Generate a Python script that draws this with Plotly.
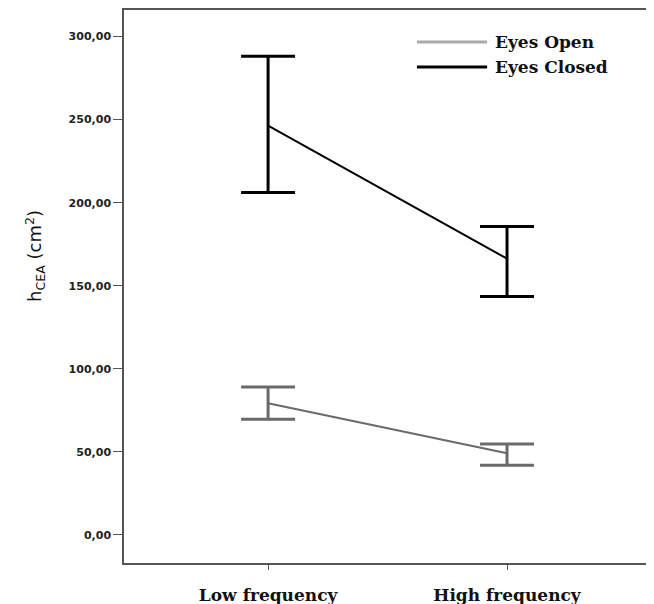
import plotly.graph_objects as go

categories = ["Low frequency", "High frequency"]
x_pos = [0, 1]

open_mean = [79.3, 49.2]
open_upper = [89.0, 54.8]
open_lower = [69.7, 42.0]

closed_mean = [246.4, 166.3]
closed_upper = [288.1, 185.7]
closed_lower = [206.2, 143.6]

y_ticks = [0, 50, 100, 150, 200, 250, 300]
y_ticktext = ["0,00", "50,00", "100,00", "150,00", "200,00", "250,00", "300,00"]

series = [
    ("Eyes Open", open_mean, open_upper, open_lower, "#6a6a6a", "#aaaaaa"),
    ("Eyes Closed", closed_mean, closed_upper, closed_lower, "#000000", "#000000"),
]

fig = go.Figure()
for name, m, up, lo, col, _ in series:
    fig.add_trace(go.Scatter(
        x=x_pos, y=m, mode="lines", name=name,
        line=dict(color=col, width=2),
        error_y=dict(type="data", symmetric=False,
                     array=[u - v for u, v in zip(up, m)],
                     arrayminus=[v - l for v, l in zip(m, lo)],
                     color=col, thickness=3, width=27),
        showlegend=False,
    ))

serif = "DejaVu Serif"
legend_y = [0.942, 0.897]
for (name, *_rest, lcol), ly in zip(series, legend_y):
    fig.add_shape(type="line", xref="paper", yref="paper",
                  x0=0.559, x1=0.693, y0=ly, y1=ly,
                  line=dict(color=lcol, width=3))
    fig.add_annotation(xref="paper", yref="paper", x=0.704, y=ly,
                       xanchor="left", yanchor="middle", showarrow=False,
                       text="<b>%s</b>" % name,
                       font=dict(family=serif, size=17, color="#111"))

fig.add_annotation(xref="paper", yref="paper", x=-0.17, y=0.555,
                   text="h<sub>CEA</sub> (cm<sup>2</sup>)", textangle=-90,
                   showarrow=False, xanchor="center", yanchor="middle",
                   font=dict(family="DejaVu Sans", size=18, color="#111"))

fig.update_layout(
    width=646, height=596,
    margin=dict(l=116, r=6, t=2, b=41),
    paper_bgcolor="white", plot_bgcolor="white",
    xaxis=dict(range=[-0.603, 1.59], tickvals=x_pos, ticktext=["<b>%s</b>" % c for c in categories],
               showgrid=False, zeroline=False, showline=True, mirror=True,
               linecolor="#555", linewidth=1.5, ticks="outside", ticklen=5,
               tickcolor="#555", ticklabelstandoff=11, automargin=False,
               tickfont=dict(family=serif, size=17, color="#111")),
    yaxis=dict(range=[-16.9, 316], tickvals=y_ticks, ticktext=["<b>%s</b>" % t for t in y_ticktext],
               showgrid=False, zeroline=False, showline=True, mirror=True,
               linecolor="#555", linewidth=1.5, ticks="outside", ticklen=9,
               tickcolor="#555", automargin=False,
               tickfont=dict(family="DejaVu Sans", size=11, color="#222")),
)

fig.write_html("out.html")
